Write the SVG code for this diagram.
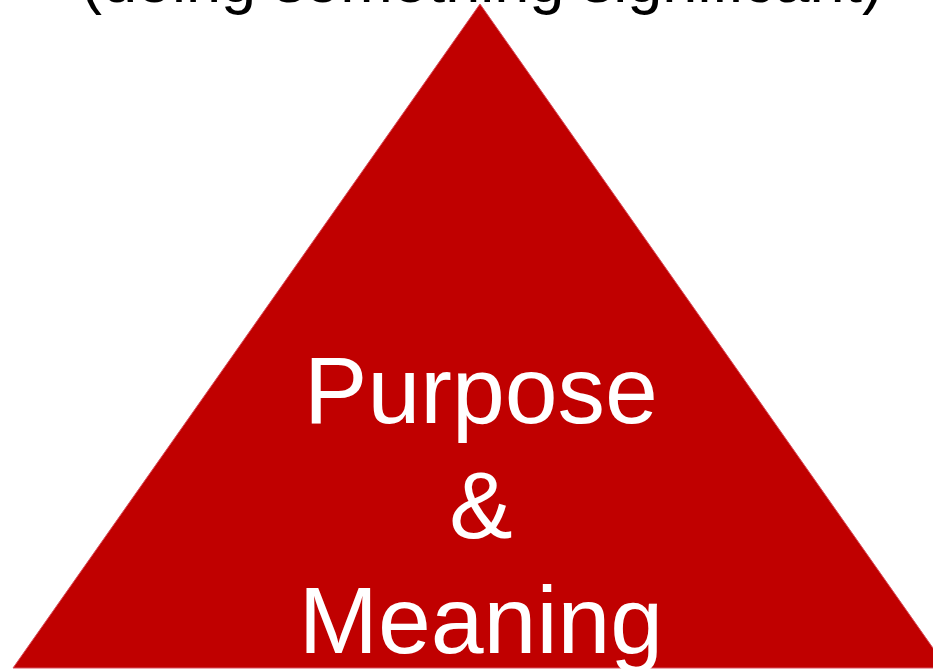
<svg xmlns="http://www.w3.org/2000/svg" width="933" height="669" viewBox="0 0 933 669">
<style>
.lbl{font-family:"Liberation Sans",Arial,sans-serif;text-anchor:middle}
.tri{fill:#C00000;stroke:#D9505E;stroke-width:1}
</style>
<rect width="933" height="669" fill="#FFFFFF"/>
<g id="title">
<text class="lbl" x="482" y="2" font-size="63" fill="#000000">(doing something significant)</text>
</g>
<g id="pyramid">
<polygon class="tri" points="480,4 947,668 13,668"/>
<text class="lbl" x="481" y="423" font-size="95" fill="#FFFFFF">Purpose</text>
<text class="lbl" x="481" y="538" font-size="95" fill="#FFFFFF">&amp;</text>
<text class="lbl" x="481" y="653" font-size="95" fill="#FFFFFF">Meaning</text>
</g>
</svg>
